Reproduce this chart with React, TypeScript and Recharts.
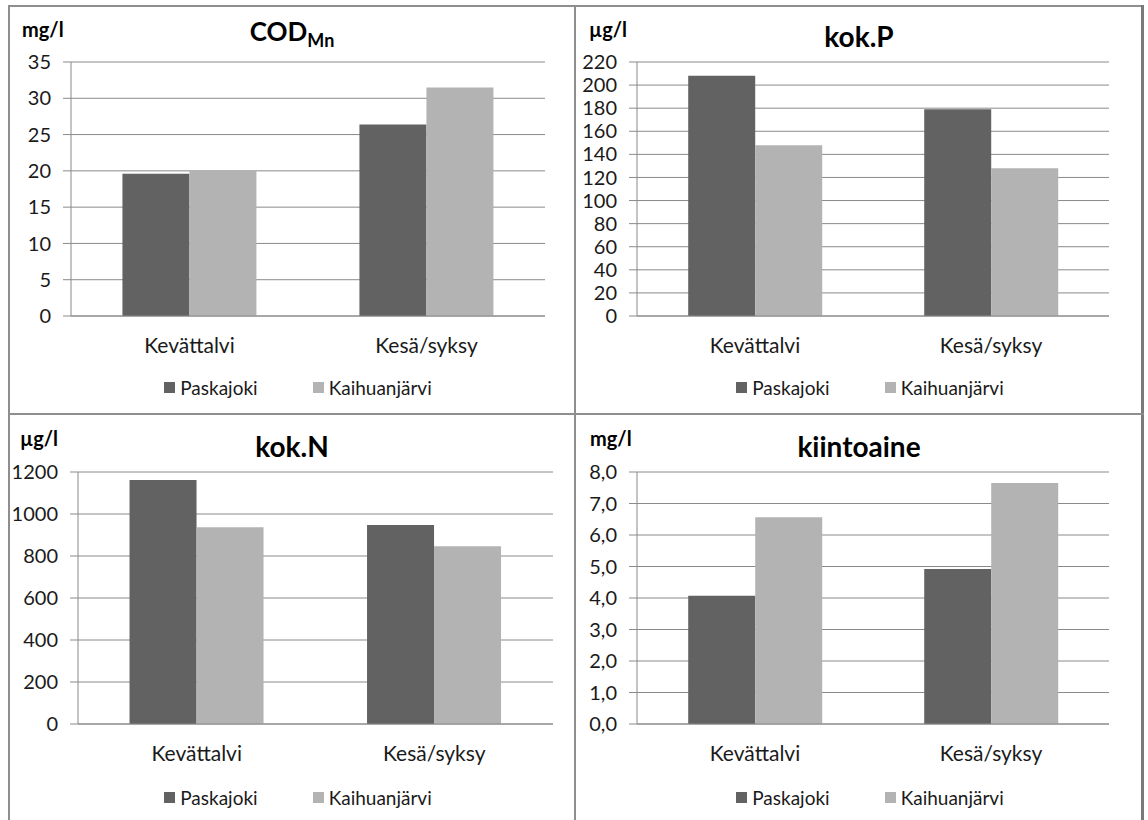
import React from 'react';
import { BarChart, Bar, XAxis, YAxis, CartesianGrid, Legend } from 'recharts';

// ---------- data ----------
const categories = ['Kevättalvi', 'Kesä/syksy'];
const seriesNames = ['Paskajoki', 'Kaihuanjärvi'];

const codPaskajoki = [19.6, 26.4];
const codKaihuanjarvi = [20.1, 31.5];
const codTicks = [0, 5, 10, 15, 20, 25, 30, 35];

const pPaskajoki = [208, 179];
const pKaihuanjarvi = [148, 128];
const pTicks = [0, 20, 40, 60, 80, 100, 120, 140, 160, 180, 200, 220];

const nPaskajoki = [1162, 948];
const nKaihuanjarvi = [937, 846];
const nTicks = [0, 200, 400, 600, 800, 1000, 1200];

const ssPaskajoki = [4.07, 4.92];
const ssKaihuanjarvi = [6.56, 7.65];
const ssTicks = [0, 1, 2, 3, 4, 5, 6, 7, 8];

const boundaryTicks = [0, 1, 2];

// ---------- style ----------
const FONT = "Lato, 'Open Sans', sans-serif";
const GRID = '#8a8a8a';
const TEXT = '#1a1a1a';
const DARK = '#626262';
const LIGHT = '#b3b3b3';
const BORDER = '#8e8e8e';

type PanelProps = {
  left: number;
  top: number;
  width: number;
  height: number;
  margin: { top: number; right: number; bottom: number; left: number };
  yWidth: number;
  catHeight: number;
  legendCenter: number;
  ticks: number[];
  fmt?: (v: number) => string;
  a: number[];
  b: number[];
};

const makeData = (a: number[], b: number[]) =>
  categories.map((c, i) => ({ category: c, paskajoki: a[i], kaihuan: b[i] }));

const renderLegend = (props: any) => {
  const payload = [...(props.payload || [])].sort(
    (x: any, y: any) => seriesNames.indexOf(x.value) - seriesNames.indexOf(y.value)
  );
  return (
    <div
      style={{
        display: 'flex',
        justifyContent: 'center',
        alignItems: 'center',
        height: 22,
        fontFamily: FONT,
        fontSize: 19,
        color: TEXT,
      }}
    >
      {payload.map((p: any, i: number) => (
        <div key={p.value} style={{ display: 'flex', alignItems: 'center', marginLeft: i ? 55 : 0 }}>
          <span style={{ display: 'inline-block', width: 11, height: 11, background: p.color, marginRight: 5 }} />
          <span>{p.value}</span>
        </div>
      ))}
    </div>
  );
};

const Panel = (p: PanelProps) => {
  const data = makeData(p.a, p.b);
  const half = Math.min(p.legendCenter, p.width - p.legendCenter);
  return (
    <div style={{ position: 'absolute', left: p.left, top: p.top, width: p.width, height: p.height }}>
      <BarChart
        width={p.width}
        height={p.height}
        data={data}
        margin={p.margin}
        barCategoryGap="21.7%"
        barGap={0}
      >
        <CartesianGrid xAxisId="cat" vertical={false} stroke={GRID} strokeWidth={1} />
        <XAxis
          xAxisId="ticks"
          type="number"
          domain={[0, 2]}
          ticks={boundaryTicks}
          allowDataOverflow
          tick={false}
          axisLine={false}
          tickLine={{ stroke: GRID }}
          tickSize={8}
          height={0}
        />
        <XAxis
          xAxisId="cat"
          dataKey="category"
          height={p.catHeight}
          axisLine={{ stroke: GRID }}
          tickLine={false}
          tickSize={8}
          tickMargin={14}
          interval={0}
          tick={{ fill: TEXT, fontSize: 21, fontFamily: FONT }}
        />
        <YAxis
          type="number"
          domain={[p.ticks[0], p.ticks[p.ticks.length - 1]]}
          ticks={p.ticks}
          interval={0}
          width={p.yWidth}
          axisLine={{ stroke: GRID }}
          tickLine={{ stroke: GRID }}
          tickSize={8}
          tickMargin={12}
          tickFormatter={p.fmt}
          tick={{ fill: TEXT, fontSize: 20, fontFamily: FONT }}
        />
        <Legend
          verticalAlign="bottom"
          align="center"
          content={renderLegend}
          wrapperStyle={{ left: p.legendCenter - half, width: half * 2 }}
        />
        <Bar xAxisId="cat" dataKey="paskajoki" name={seriesNames[0]} fill={DARK} isAnimationActive={false} />
        <Bar xAxisId="cat" dataKey="kaihuan" name={seriesNames[1]} fill={LIGHT} isAnimationActive={false} />
      </BarChart>
    </div>
  );
};

const titleStyle = (left: number, top: number, width: number, size = 28): React.CSSProperties => ({
  position: 'absolute',
  left,
  top,
  width,
  textAlign: 'center',
  fontFamily: FONT,
  fontWeight: 700,
  fontSize: size,
  lineHeight: `${size}px`,
  color: '#000',
  whiteSpace: 'nowrap',
});

const unitStyle = (left: number, top: number): React.CSSProperties => ({
  position: 'absolute',
  left,
  top,
  fontFamily: FONT,
  fontWeight: 700,
  fontSize: 20,
  lineHeight: '20px',
  color: '#000',
  whiteSpace: 'nowrap',
});

const line = (left: number, top: number, width: number, height: number, color = BORDER): React.CSSProperties => ({
  position: 'absolute',
  left,
  top,
  width,
  height,
  background: color,
});

const fmtComma = (v: number) => v.toFixed(1).replace('.', ',');

export default function App() {
  return (
    <div
      style={{
        position: 'absolute',
        left: 0,
        top: 0,
        width: 1148,
        height: 820,
        background: '#fff',
        overflow: 'hidden',
      }}
    >
      <Panel
        left={0}
        top={0}
        width={575}
        height={414}
        margin={{ top: 62, right: 30, bottom: 16, left: 0 }}
        yWidth={71}
        catHeight={60}
        legendCenter={298}
        ticks={codTicks}
        a={codPaskajoki}
        b={codKaihuanjarvi}
      />
      <Panel
        left={575}
        top={0}
        width={568}
        height={414}
        margin={{ top: 62, right: 34, bottom: 16, left: 0 }}
        yWidth={62}
        catHeight={60}
        legendCenter={295}
        ticks={pTicks}
        a={pPaskajoki}
        b={pKaihuanjarvi}
      />
      <Panel
        left={0}
        top={414}
        width={575}
        height={406}
        margin={{ top: 58, right: 22, bottom: 12, left: 0 }}
        yWidth={78}
        catHeight={62}
        legendCenter={298}
        ticks={nTicks}
        a={nPaskajoki}
        b={nKaihuanjarvi}
      />
      <Panel
        left={575}
        top={414}
        width={568}
        height={406}
        margin={{ top: 58, right: 34, bottom: 12, left: 0 }}
        yWidth={62}
        catHeight={62}
        legendCenter={295}
        ticks={ssTicks}
        fmt={fmtComma}
        a={ssPaskajoki}
        b={ssKaihuanjarvi}
      />

      {/* titles */}
      <div style={titleStyle(9, 18, 566, 26)}>
        COD<sub style={{ fontSize: 18, verticalAlign: 'sub', lineHeight: 0 }}>Mn</sub>
      </div>
      <div style={titleStyle(575, 22, 568)}>kok.P</div>
      <div style={titleStyle(9, 432, 566)}>kok.N</div>
      <div style={titleStyle(575, 432, 568)}>kiintoaine</div>

      {/* units */}
      <div style={unitStyle(22, 19)}>mg/l</div>
      <div style={unitStyle(589, 19)}>µg/l</div>
      <div style={unitStyle(20, 428)}>µg/l</div>
      <div style={unitStyle(590, 428)}>mg/l</div>

      {/* frame */}
      <div style={line(8, 5, 1136, 2)} />
      <div style={line(8, 5, 2, 815)} />
      <div style={line(1141, 5, 3, 815, '#7a7a7a')} />
      <div style={line(574, 5, 2, 815)} />
      <div style={line(8, 413, 1136, 2)} />
    </div>
  );
}
